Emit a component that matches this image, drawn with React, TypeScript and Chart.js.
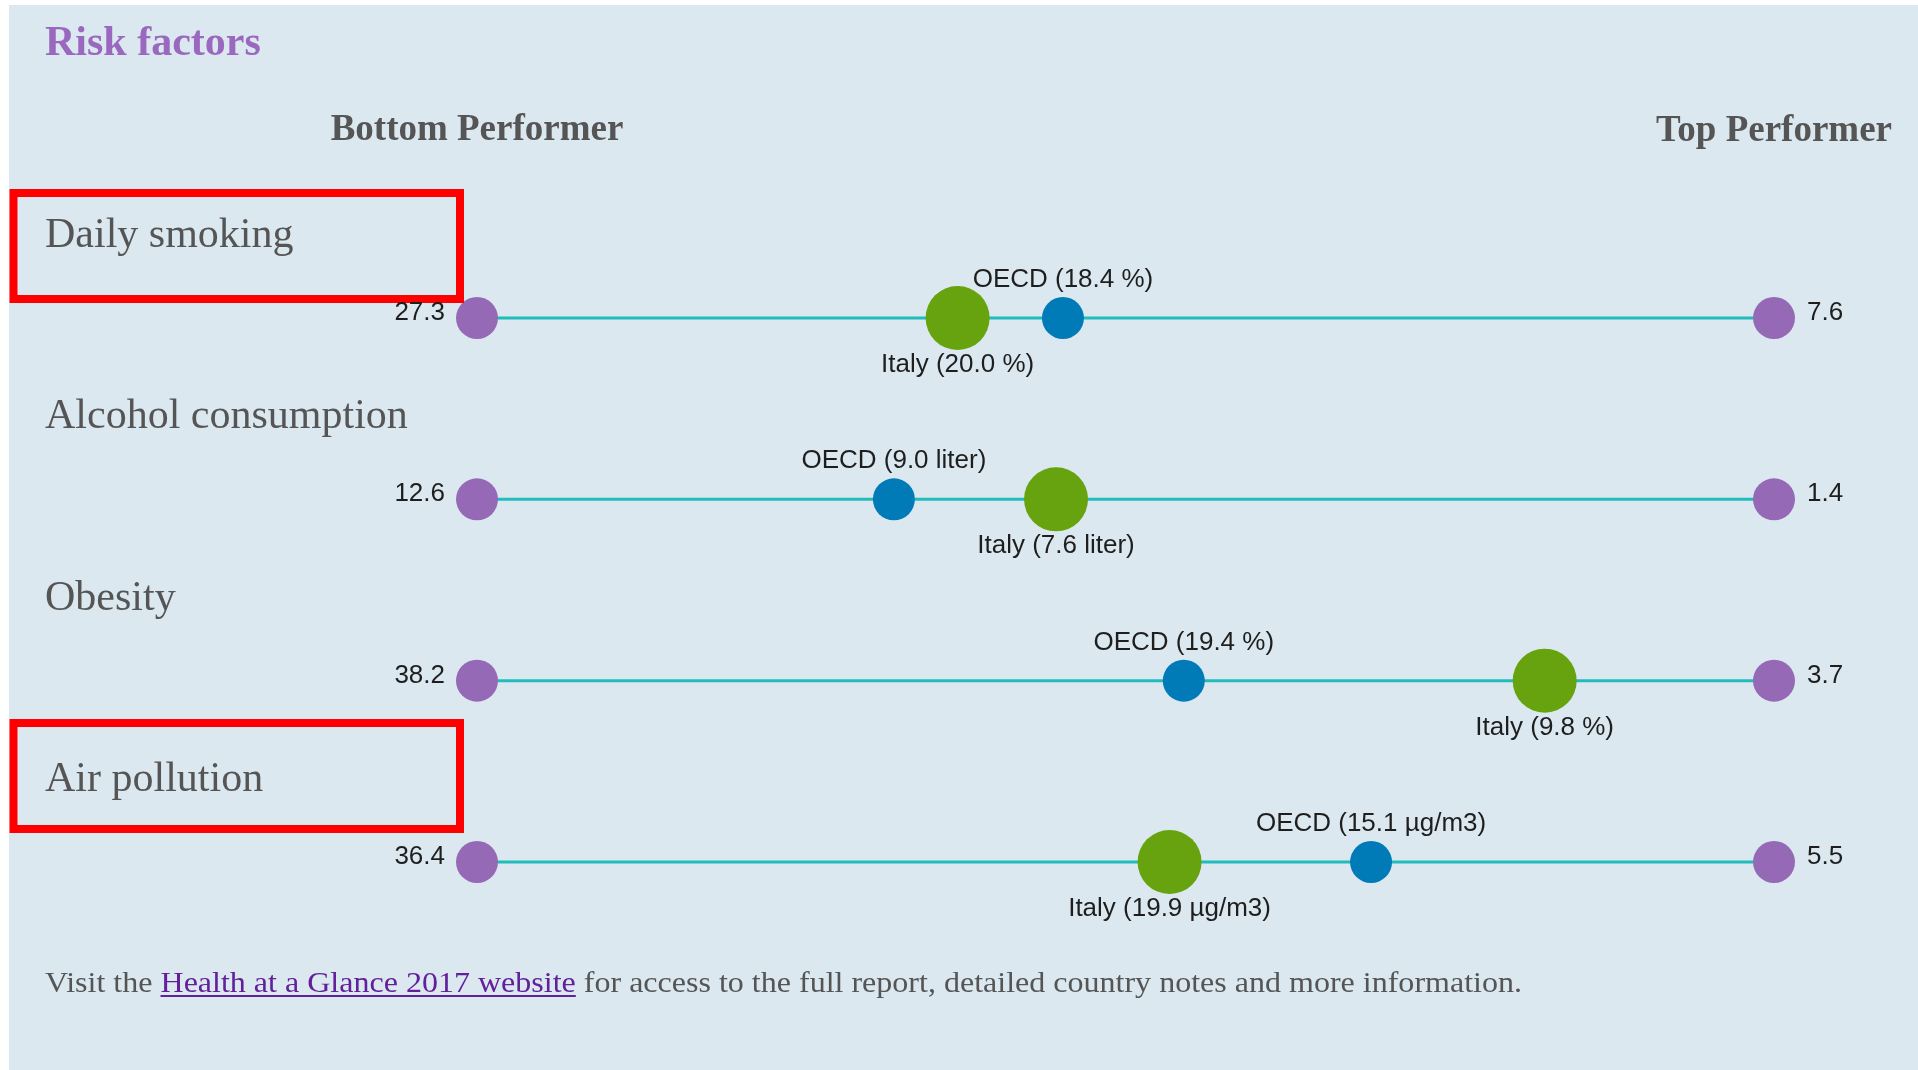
import React, { useEffect, useRef } from 'react';
import { Chart, registerables } from 'chart.js';

Chart.register(...registerables);

// ---- data ----
const rowLabels = ['Daily smoking', 'Alcohol consumption', 'Obesity', 'Air pollution'];
const bottomValues = [27.3, 12.6, 38.2, 36.4];
const topValues = [7.6, 1.4, 3.7, 5.5];
const italyValues = [20.0, 7.6, 9.8, 19.9];
const oecdValues = [18.4, 9.0, 19.4, 15.1];
const units = ['%', 'liter', '%', 'µg/m3'];
const highlightedRows = [0, 3];
const countryName = 'Italy';
const benchmarkName = 'OECD';
const titleText = 'Risk factors';
const bottomHeader = 'Bottom Performer';
const topHeader = 'Top Performer';
const footerBefore = 'Visit the ';
const footerLink = 'Health at a Glance 2017 website';
const footerAfter = ' for access to the full report, detailed country notes and more information.';

// ---- styles ----
const BG = '#dbe8f0';
const PURPLE = '#9569b5';
const GREEN = '#66a30e';
const BLUE = '#007bb8';
const LINE = '#22bcbc';
const TITLE_PURPLE = '#9a68bf';
const GREY_TEXT = '#555555';
const LABEL_TEXT = '#1e1e1e';
const LINK = '#62209a';
const SERIF = '"Liberation Serif", "DejaVu Serif", serif';
const SANS = '"Liberation Sans", Arial, sans-serif';
const FOOTER_WIDTH = 1477;
// red highlight boxes, offsets relative to row line
const boxOffsets: Record<number, [number, number]> = { 0: [-125, -19], 3: [-139, -33] };

const overlayPlugin = {
  id: 'overlay',
  beforeDraw(chart: any) {
    const ctx = chart.ctx as CanvasRenderingContext2D;
    ctx.save();
    ctx.fillStyle = '#ffffff';
    ctx.fillRect(0, 0, chart.width, chart.height);
    ctx.fillStyle = BG;
    ctx.fillRect(9, 5, chart.width - 9, chart.height - 5);
    ctx.restore();
  },
  afterDatasetsDraw(chart: any) {
    const ctx = chart.ctx as CanvasRenderingContext2D;
    const yScale = chart.scales.y;
    ctx.save();
    ctx.textBaseline = 'alphabetic';

    // title
    ctx.font = `bold 42px ${SERIF}`;
    ctx.fillStyle = TITLE_PURPLE;
    ctx.textAlign = 'left';
    ctx.fillText(titleText, 45, 55);

    // headers
    const x0 = chart.scales.x0;
    const leftX = x0.getPixelForValue(bottomValues[0]);
    const rightX = x0.getPixelForValue(topValues[0]);
    ctx.font = `bold 37px ${SERIF}`;
    ctx.fillStyle = GREY_TEXT;
    ctx.textAlign = 'center';
    ctx.fillText(bottomHeader, leftX, 140);
    ctx.fillText(topHeader, rightX, 141);

    rowLabels.forEach((label, i) => {
      const xs = chart.scales['x' + i];
      const y = yScale.getPixelForValue(i);
      const bx = xs.getPixelForValue(bottomValues[i]);
      const tx = xs.getPixelForValue(topValues[i]);
      const ix = xs.getPixelForValue(italyValues[i]);
      const ox = xs.getPixelForValue(oecdValues[i]);

      // row label
      ctx.font = `42px ${SERIF}`;
      ctx.fillStyle = GREY_TEXT;
      ctx.textAlign = 'left';
      ctx.fillText(label, 45, y - 71);

      // highlight box
      if (highlightedRows.includes(i)) {
        const [t, b] = boxOffsets[i];
        ctx.strokeStyle = '#ff0000';
        ctx.lineWidth = 8;
        ctx.strokeRect(13.5, y + t, 446.5, b - t);
      }

      // value labels
      ctx.font = `26px ${SANS}`;
      ctx.fillStyle = LABEL_TEXT;
      ctx.textAlign = 'right';
      ctx.fillText(bottomValues[i].toFixed(1), bx - 32, y + 2);
      ctx.textAlign = 'left';
      ctx.fillText(topValues[i].toFixed(1), tx + 33, y + 2);
      ctx.textAlign = 'center';
      ctx.fillText(`${benchmarkName} (${oecdValues[i].toFixed(1)} ${units[i]})`, ox, y - 31);
      ctx.fillText(`${countryName} (${italyValues[i].toFixed(1)} ${units[i]})`, ix, y + 54);
    });

    // footer (slightly wider serif face in the original)
    ctx.font = `30px ${SERIF}`;
    ctx.textAlign = 'left';
    const total = ctx.measureText(footerBefore + footerLink + footerAfter).width;
    const sx = FOOTER_WIDTH / total;
    ctx.save();
    ctx.translate(45, 992);
    ctx.scale(sx, 1);
    let fx = 0;
    ctx.fillStyle = GREY_TEXT;
    ctx.fillText(footerBefore, fx, 0);
    fx += ctx.measureText(footerBefore).width;
    ctx.fillStyle = LINK;
    ctx.fillText(footerLink, fx, 0);
    const lw = ctx.measureText(footerLink).width;
    ctx.fillRect(fx, 3, lw, 2);
    fx += lw;
    ctx.fillStyle = GREY_TEXT;
    ctx.fillText(footerAfter, fx, 0);
    ctx.restore();

    ctx.restore();
  },
};

export default function App() {
  const ref = useRef<HTMLCanvasElement>(null);

  useEffect(() => {
    document.body.style.margin = '0';
    document.body.style.overflow = 'hidden';
    const canvas = ref.current!;
    const scales: any = {
      x: { type: 'linear', display: false },
      y: { type: 'linear', min: 0, max: rowLabels.length - 1, reverse: true, display: false },
    };
    const datasets: any[] = [];
    rowLabels.forEach((label, i) => {
      const id = 'x' + i;
      scales[id] = {
        type: 'linear',
        axis: 'x',
        position: 'bottom',
        min: topValues[i],
        max: bottomValues[i],
        reverse: true,
        display: false,
      };
      const ends = [
        { x: bottomValues[i], y: i },
        { x: topValues[i], y: i },
      ];
      datasets.push({
        type: 'line',
        label: label + ' range',
        data: ends,
        xAxisID: id,
        yAxisID: 'y',
        borderColor: LINE,
        borderWidth: 3,
        pointRadius: 0,
        showLine: true,
        fill: false,
        clip: false,
        order: 4,
      });
      datasets.push({
        type: 'scatter',
        label: label + ' performers',
        data: ends,
        xAxisID: id,
        yAxisID: 'y',
        backgroundColor: PURPLE,
        borderWidth: 0,
        pointRadius: 21,
        clip: false,
        order: 3,
      });
      datasets.push({
        type: 'scatter',
        label: label + ' ' + countryName,
        data: [{ x: italyValues[i], y: i }],
        xAxisID: id,
        yAxisID: 'y',
        backgroundColor: GREEN,
        borderWidth: 0,
        pointRadius: 32,
        clip: false,
        order: 2,
      });
      datasets.push({
        type: 'scatter',
        label: label + ' ' + benchmarkName,
        data: [{ x: oecdValues[i], y: i }],
        xAxisID: id,
        yAxisID: 'y',
        backgroundColor: BLUE,
        borderWidth: 0,
        pointRadius: 21,
        clip: false,
        order: 1,
      });
    });

    const chart = new Chart(canvas, {
      type: 'scatter',
      data: { datasets },
      options: {
        animation: false,
        responsive: false,
        devicePixelRatio: 1,
        events: [],
        layout: { padding: { left: 477, right: 144, top: 318, bottom: 208 } },
        plugins: { legend: { display: false }, tooltip: { enabled: false } },
        scales,
      },
      plugins: [overlayPlugin],
    } as any);
    return () => chart.destroy();
  }, []);

  return (
    <div style={{ width: 1918, height: 1070, position: 'relative' }}>
      <canvas ref={ref} width={1918} height={1070} style={{ display: 'block', width: 1918, height: 1070 }} />
    </div>
  );
}
